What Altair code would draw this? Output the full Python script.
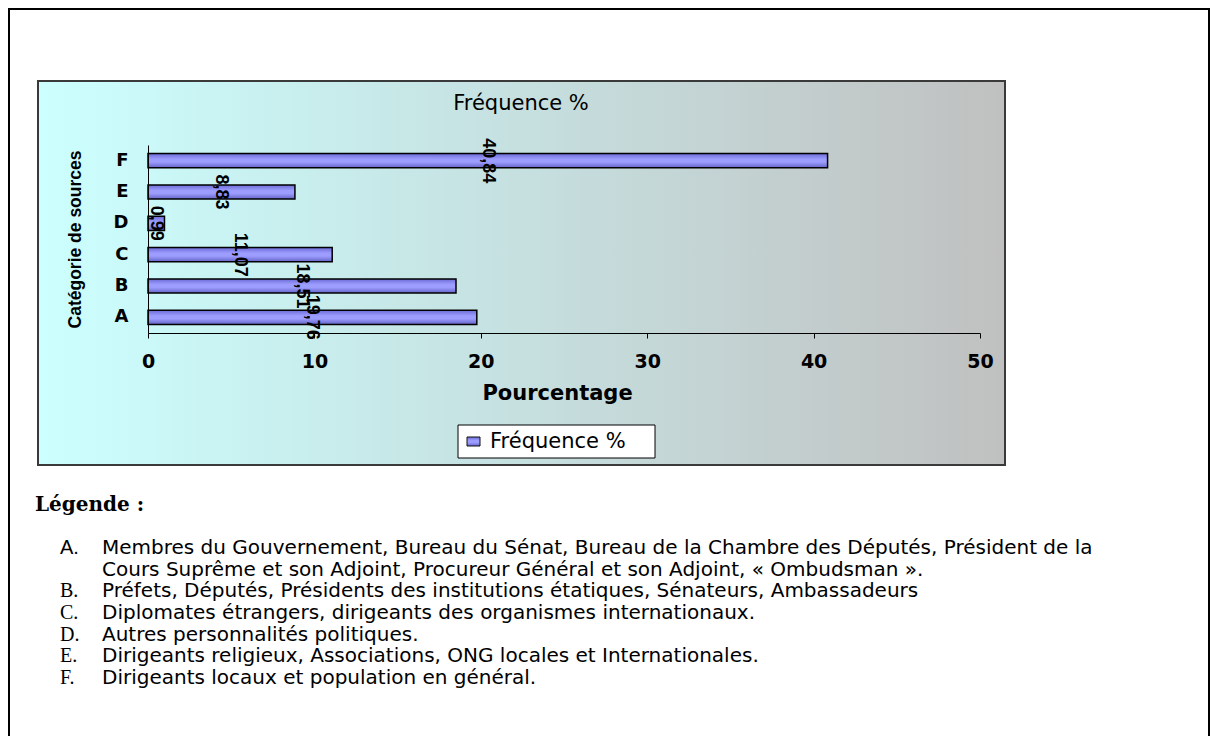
import altair as alt
import pandas as pd

# ---------------- data ----------------
categories = ["A", "B", "C", "D", "E", "F"]
values = [19.76, 18.51, 11.07, 0.99, 8.83, 40.84]
category_order = ["F", "E", "D", "C", "B", "A"]
x_ticks = [0, 10, 20, 30, 40, 50]

legend_letters = ["A.", "", "B.", "C.", "D.", "E.", "F."]
legend_lines = [
    "Membres du Gouvernement, Bureau du Sénat, Bureau de la Chambre des Députés, Président de la",
    "Cours Suprême et son Adjoint, Procureur Général et son Adjoint, « Ombudsman ».",
    "Préfets, Députés, Présidents des institutions étatiques, Sénateurs, Ambassadeurs",
    "Diplomates étrangers, dirigeants des organismes internationaux.",
    "Autres personnalités politiques.",
    "Dirigeants religieux, Associations, ONG locales et Internationales.",
    "Dirigeants locaux et population en général.",
]

chart_title = "Fréquence %"
series_name = "Fréquence %"
x_title = "Pourcentage"
y_title = "Catégorie de sources"
legend_heading = "Légende :"

df = pd.DataFrame({"cat": categories, "val": values})
df_list = pd.DataFrame({
    "row": list(range(len(legend_lines))),
    "letter": legend_letters,
    "text": legend_lines,
})
one = pd.DataFrame({"a": [0]})

W, H = 832, 188
SANS = "DejaVu Sans"
ARIAL = "Liberation Sans"

bar_fill = {
    "gradient": "linear", "x1": 0, "y1": 0, "x2": 0, "y2": 1,
    "stops": [
        {"offset": 0, "color": "#6b6bd6"},
        {"offset": 0.4, "color": "#9d9dff"},
        {"offset": 0.6, "color": "#9d9dff"},
        {"offset": 1, "color": "#6464c8"},
    ],
}
bg_fill = {
    "gradient": "linear", "x1": 0, "y1": 0, "x2": 1, "y2": 0,
    "stops": [
        {"offset": 0, "color": "#ccffff"},
        {"offset": 1, "color": "#c0c0c0"},
    ],
}

# ---------------- decorations ----------------
page_border = alt.Chart(one).mark_rect(
    fillOpacity=0, stroke="black", strokeWidth=2
).encode(x=alt.value(-139), x2=alt.value(1061), y=alt.value(-136), y2=alt.value(660))

chart_box = alt.Chart(one).mark_rect(
    fill=bg_fill, stroke="#3a3a3a", strokeWidth=2
).encode(x=alt.value(-110), x2=alt.value(857), y=alt.value(-64), y2=alt.value(320))

title_txt = alt.Chart(one).mark_text(
    text=chart_title, font=SANS, fontSize=21, color="black",
    align="center", baseline="alphabetic"
).encode(x=alt.value(373), y=alt.value(-35))

legend_box = alt.Chart(one).mark_rect(
    fill="white", stroke="black", strokeWidth=1
).encode(x=alt.value(310), x2=alt.value(507), y=alt.value(280), y2=alt.value(313))

legend_sym = alt.Chart(one).mark_rect(
    fill=bar_fill, stroke="#111111", strokeWidth=1
).encode(x=alt.value(319), x2=alt.value(332), y=alt.value(292), y2=alt.value(301))

legend_lbl = alt.Chart(one).mark_text(
    text=series_name, font=SANS, fontSize=21, color="black",
    align="left", baseline="alphabetic"
).encode(x=alt.value(342), y=alt.value(303))

# ---------------- bars ----------------
y_scale = alt.Scale(domain=category_order, paddingInner=0.55, paddingOuter=0.275)
x_scale = alt.Scale(domain=[0, 50], nice=False)

y_enc = alt.Y(
    "cat:N",
    sort=category_order,
    scale=y_scale,
    axis=alt.Axis(
        title=y_title, titleFont=ARIAL, titleFontSize=17.5, titleFontWeight="bold",
        titleColor="black", titleAngle=270, titleX=-73, titleY=94,
        titleAlign="center", titleBaseline="middle",
        labelFont=SANS, labelFontSize=18, labelFontWeight="bold", labelColor="black",
        labelPadding=20, ticks=False, domainColor="black", domainWidth=1, zindex=1,
    ),
)
x_enc = alt.X(
    "val:Q",
    scale=x_scale,
    axis=alt.Axis(
        values=x_ticks, grid=False, title=x_title, labelFlush=False,
        titleFont=SANS, titleFontSize=21, titleFontWeight="bold", titleColor="black",
        titleX=409, titleY=66, titleAlign="center", titleBaseline="alphabetic",
        labelFont=SANS, labelFontSize=19, labelFontWeight="bold", labelColor="black",
        labelPadding=14, tickSize=5, tickColor="black", domainColor="black",
        domainWidth=1, zindex=1,
    ),
)

bars = alt.Chart(df).mark_bar(
    fill=bar_fill, stroke="black", strokeWidth=1.5
).encode(x=x_enc, y=y_enc)

labels = alt.Chart(df).transform_calculate(
    half="datum.val / 2",
    lbl="replace(format(datum.val, '.2f'), '.', ',')",
).mark_text(
    angle=90, font=ARIAL, fontSize=18, fontWeight="bold", color="black",
    align="center", baseline="middle"
).encode(
    x=alt.X("half:Q", scale=x_scale),
    y=alt.Y("cat:N", sort=category_order, scale=y_scale),
    text="lbl:N",
)

bar_layer = alt.layer(bars, labels)

# ---------------- text legend below ----------------
heading = alt.Chart(one).mark_text(
    text=legend_heading, font="DejaVu Serif", fontSize=20, fontWeight="bold",
    color="black", align="left", baseline="alphabetic"
).encode(x=alt.value(-113), y=alt.value(366))

list_y = alt.Y("row:Q", scale=alt.Scale(domain=[0, 6], range=[409, 539]), axis=None)

list_letter_a = alt.Chart(df_list).transform_filter("datum.letter == 'A.'").mark_text(
    font=ARIAL, fontSize=20, color="black", align="left", baseline="alphabetic"
).encode(x=alt.value(-88), y=list_y, text="letter:N")

list_letter_rest = alt.Chart(df_list).transform_filter(
    "datum.letter != 'A.' && datum.letter != ''"
).mark_text(
    font="Liberation Serif", fontSize=20, color="black", align="left", baseline="alphabetic"
).encode(x=alt.value(-88), y=list_y, text="letter:N")

list_text = alt.Chart(df_list).mark_text(
    font=SANS, fontSize=20, color="black", align="left", baseline="alphabetic"
).encode(x=alt.value(-46), y=list_y, text="text:N")

chart = alt.layer(
    page_border, chart_box, title_txt, legend_box, legend_sym, legend_lbl,
    bar_layer, heading, list_letter_a, list_letter_rest, list_text,
).resolve_scale(y="independent").properties(
    width=W, height=H,
    autosize=alt.AutoSizeParams(type="none"),
    padding={"left": 140, "top": 137, "right": 230, "bottom": 403},
    background="white",
).configure_view(stroke=None)

chart.save("out.html", embed_options={"renderer": "svg", "actions": False})
